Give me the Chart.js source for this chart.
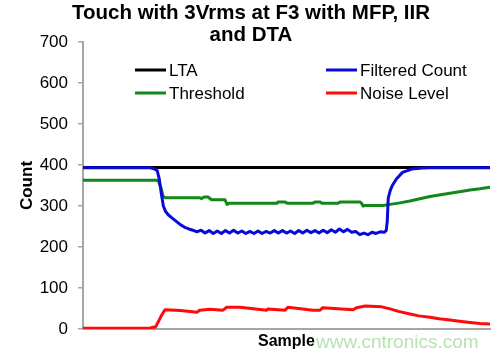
<!DOCTYPE html>
<html><head><meta charset="utf-8">
<script src="https://cdn.jsdelivr.net/npm/chart.js@4.4.1/dist/chart.umd.min.js"></script>
<style>html,body{margin:0;padding:0;background:#fff}</style>
</head><body>
<canvas id="c" width="500" height="358"></canvas>
<script>
const titleLines = ['Touch with 3Vrms at F3 with MFP, IIR', 'and DTA'];
const seriesNames = ['LTA', 'Filtered Count', 'Threshold', 'Noise Level'];
const seriesColors = ['#000000', '#0a0ad8', '#12871a', '#ff0a0a'];
const yTicks = [0, 100, 200, 300, 400, 500, 600, 700];
const xTitle = 'Sample';
const yTitle = 'Count';
const watermark = 'www.cntronics.com';

const ltaX = [0, 200];
const ltaY = [394, 394];

const filtX = [0, 33, 35, 36.5, 37.5, 38.5, 39.5, 40.5, 42, 44, 46, 48, 50, 52,
  54, 56, 58, 60, 62, 64, 66, 68, 70, 72, 74, 76, 78, 80, 82, 84, 86, 88, 90, 92, 94, 96, 98, 100,
  102, 104, 106, 108, 110, 112, 114, 116, 118, 120, 122, 124, 126, 128, 130, 132, 134, 136, 138, 140,
  142, 144, 146, 148, 149, 149.5, 150, 151, 152, 154, 157, 161.5, 167, 170, 200];
const filtY = [393, 393, 391, 386, 365, 330, 300, 287, 278, 270, 262, 254, 248, 244,
  241, 237, 241, 234, 240, 233, 239, 233, 240, 234, 241, 234, 239, 233, 238, 233, 239, 233, 238, 234, 240, 234, 240, 234,
  239, 233, 240, 234, 241, 235, 240, 234, 241, 235, 242, 236, 244, 237, 243, 236, 238, 230, 234, 230,
  236, 233, 237, 236, 240, 262, 319, 338, 350, 366, 382, 390, 392.5, 393, 393];

const thrX = [0, 36, 37, 38.3, 39.3, 40.3, 57.5, 58.3, 59.5, 61.4, 62.4, 63.4, 69.8, 70.8, 71.7,
  95.3, 95.8, 99.3, 100.3, 113, 114, 116.5, 117.4, 125.3, 126.3, 136.1, 137, 137.6, 138.6, 147.4,
  150.9, 155, 160.7, 165, 170.5, 175, 180.3, 185, 190.2, 195, 200];
const thrY = [363, 363, 361, 345, 325, 320, 320, 318, 322, 322, 318, 315, 315, 304, 306.5,
  306.5, 310, 310, 306.5, 306.5, 310, 310, 306.5, 306.5, 310, 310, 306, 300, 301, 301,
  304, 307, 312, 317, 323, 327, 331, 335, 339, 342, 346];

const noiseX = [0, 33, 34, 35.5, 36.2, 38.7, 40.3, 48, 55.9, 57.5, 62.4, 68.8, 70.6, 77.1, 90.3, 90.9,
  99.3, 100.7, 113, 116.5, 117.8, 132.7, 134.5, 138.6, 146.8, 150.9, 155, 160.7, 165, 170.5, 175,
  180.3, 185, 190.2, 195, 200];
const noiseY = [2, 2, 4, 4, 10, 34, 47, 45, 41, 46, 48, 46, 53, 53, 46, 49,
  46, 53, 46, 46, 52, 47, 52, 56, 54, 49, 43, 36.5, 32, 28.5, 25,
  22, 19, 16, 13.5, 12];

const FONT = "'Liberation Sans', Arial, sans-serif";
function pts(xs, ys) { return xs.map((x, i) => ({x: x, y: ys[i]})); }

const decorPlugin = {
  id: 'decor',
  afterDraw(chart) {
    const ctx = chart.ctx;
    ctx.save();
    // title
    ctx.font = 'bold 20.5px ' + FONT;
    ctx.fillStyle = '#000';
    ctx.textAlign = 'center';
    ctx.textBaseline = 'middle';
    titleLines.forEach((t, i) => ctx.fillText(t, 251, 13 + i * 22));
    // legend inside the plot
    const pos = [[135, 70], [326, 70], [135, 93], [326, 93]];
    ctx.font = '17px ' + FONT;
    ctx.textAlign = 'left';
    chart.data.datasets.forEach((ds, i) => {
      const p = pos[i];
      ctx.strokeStyle = ds.borderColor;
      ctx.lineWidth = 3;
      ctx.beginPath();
      ctx.moveTo(p[0], p[1]);
      ctx.lineTo(p[0] + 31, p[1]);
      ctx.stroke();
      ctx.fillStyle = '#000';
      ctx.fillText(ds.label, p[0] + 34, p[1] + 1);
    });
    ctx.font = '19px ' + FONT;
    ctx.fillStyle = '#b8e2b2';
    ctx.fillText(watermark, 316, 343);
    ctx.restore();
  }
};

new Chart(document.getElementById('c'), {
  type: 'line',
  data: {
    datasets: [
      {label: seriesNames[0], data: pts(ltaX, ltaY), borderColor: seriesColors[0], order: 3},
      {label: seriesNames[1], data: pts(filtX, filtY), borderColor: seriesColors[1], order: 0},
      {label: seriesNames[2], data: pts(thrX, thrY), borderColor: seriesColors[2], order: 1},
      {label: seriesNames[3], data: pts(noiseX, noiseY), borderColor: seriesColors[3], order: 2}
    ]
  },
  options: {
    responsive: false,
    animation: false,
    devicePixelRatio: 1,
    layout: {padding: {left: 0, right: 10, top: 42, bottom: 0}},
    elements: {
      line: {borderWidth: 3, tension: 0, fill: false, borderJoinStyle: 'round', borderCapStyle: 'round'},
      point: {radius: 0, hoverRadius: 0}
    },
    plugins: {
      legend: {display: false},
      tooltip: {enabled: false},
      title: {display: false}
    },
    scales: {
      x: {
        type: 'linear', min: 0, max: 200,
        grid: {display: false},
        border: {display: true, color: '#a6a6a6', width: 2},
        ticks: {display: false},
        title: {display: true, text: xTitle, color: '#000',
          font: {family: FONT, size: 16, weight: 'bold'}, padding: {top: 0, bottom: 6.4}},
        afterFit(s) { s.height = 29; }
      },
      y: {
        min: 0, max: 700,
        afterBuildTicks(s) { s.ticks = yTicks.map(v => ({value: v})); },
        grid: {drawOnChartArea: false, drawTicks: true, tickLength: 5, color: '#a6a6a6', lineWidth: 1.5},
        border: {display: true, color: '#a6a6a6', width: 2},
        ticks: {color: '#000', padding: 10, font: {family: FONT, size: 17}},
        title: {display: true, text: yTitle, color: '#000',
          font: {family: FONT, size: 17, weight: 'bold'}, padding: {top: 16.8, bottom: 0}},
        afterFit(s) { s.width = 83; }
      }
    }
  },
  plugins: [decorPlugin]
});
</script>
</body></html>
